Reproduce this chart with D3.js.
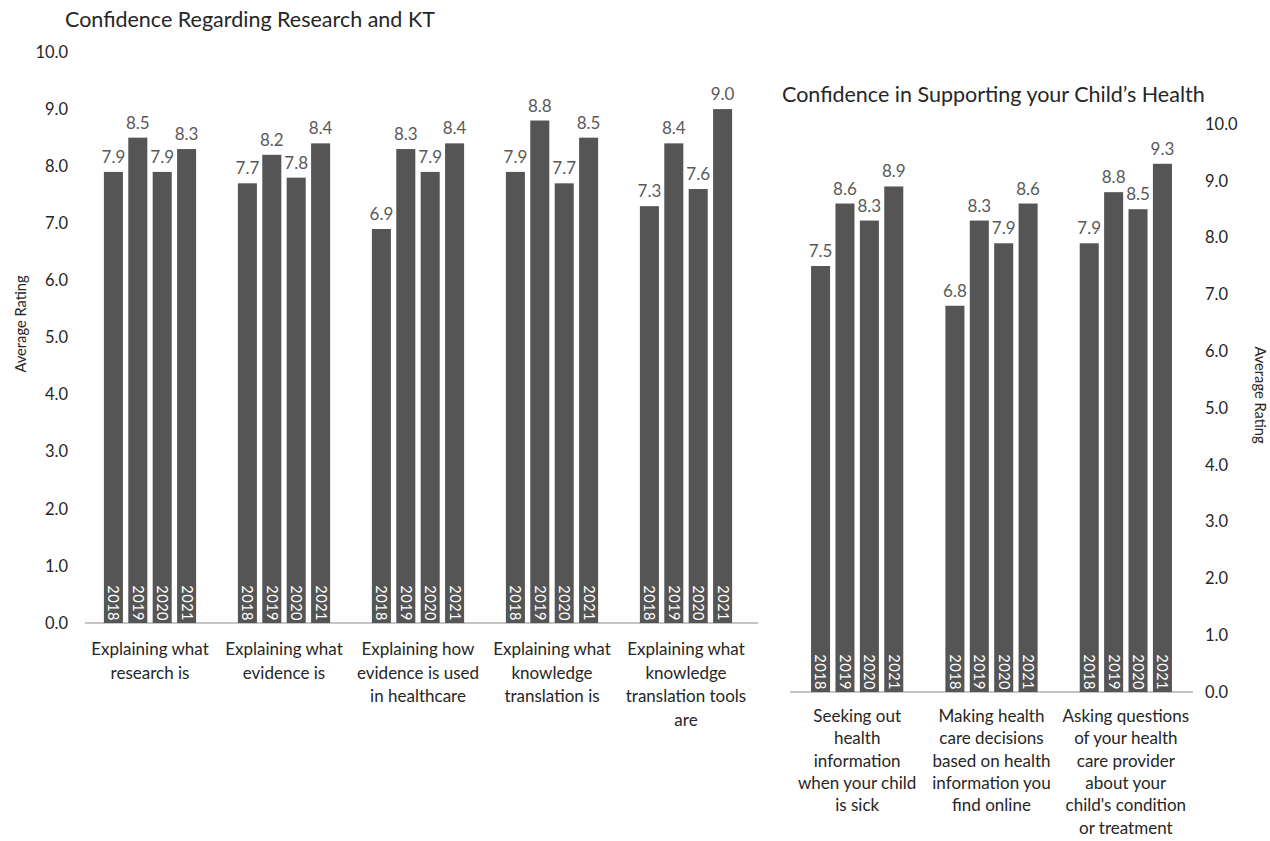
<!DOCTYPE html>
<html><head><meta charset="utf-8">
<script src="https://cdn.jsdelivr.net/npm/d3@7"></script>
<style>
body{margin:0;background:#fff;}
text{font-family:Lato,"Open Sans",sans-serif;}
</style></head>
<body><svg id="c" width="1270" height="841"></svg>
<script>
const years = ["2018","2019","2020","2021"];
const leftCategories = [
  ["Explaining what","research is"],
  ["Explaining what","evidence is"],
  ["Explaining how","evidence is used","in healthcare"],
  ["Explaining what","knowledge","translation is"],
  ["Explaining what","knowledge","translation tools","are"]
];
const leftValues = [
  [7.9,8.5,7.9,8.3],
  [7.7,8.2,7.8,8.4],
  [6.9,8.3,7.9,8.4],
  [7.9,8.8,7.7,8.5],
  [7.3,8.4,7.6,9.0]
];
const rightCategories = [
  ["Seeking out","health","information","when your child","is sick"],
  ["Making health","care decisions","based on health","information you","find online"],
  ["Asking questions","of your health","care provider","about your","child's condition","or treatment"]
];
const rightValues = [
  [7.5,8.6,8.3,8.9],
  [6.8,8.3,7.9,8.6],
  [7.9,8.8,8.5,9.3]
];
const yTicks = [0,1,2,3,4,5,6,7,8,9,10];
const leftTitle = "Confidence Regarding Research and KT";
const rightTitle = "Confidence in Supporting your Child\u2019s Health";
const axisTitle = "Average Rating";

const svg = d3.select("#c");
const barColor = "#555555";

function panel(cfg){
  const g = svg.append("g");
  const x0 = d3.scaleBand().domain(d3.range(cfg.cats.length)).range(cfg.xr);
  const y = d3.scaleLinear().domain([0,10]).range(cfg.yr);
  const bw = x0.bandwidth();
  const x1 = d3.scaleBand().domain(years).range([bw/2-48.8, bw/2+48.8]).paddingInner(0.22).paddingOuter(0.11);
  g.append("line").attr("x1",cfg.line[0]).attr("x2",cfg.line[1])
    .attr("y1",y(0)).attr("y2",y(0)).attr("stroke","#b0b0b0").attr("stroke-width",1.5);
  g.selectAll(".yt").data(yTicks).join("text")
    .attr("x",cfg.tickX).attr("y",d=>y(d)).attr("dy","0.35em")
    .attr("text-anchor",cfg.tickAnchor).attr("font-size",16.5).attr("fill","#262626")
    .text(d=>d3.format(".1f")(d));
  const grp = g.selectAll(".grp").data(cfg.vals).join("g")
    .attr("transform",(d,i)=>`translate(${x0(i)},0)`);
  grp.selectAll("rect").data(d=>d.map((v,j)=>({v,yr:years[j]}))).join("rect")
    .attr("x",d=>x1(d.yr)).attr("width",x1.bandwidth())
    .attr("y",d=>y(d.v)).attr("height",d=>y(0)-y(d.v)).attr("fill",barColor);
  grp.selectAll(".val").data(d=>d.map((v,j)=>({v,yr:years[j]}))).join("text")
    .attr("x",d=>x1(d.yr)+x1.bandwidth()/2).attr("y",d=>y(d.v)-9)
    .attr("text-anchor","middle").attr("font-size",17).attr("fill","#595959")
    .text(d=>d3.format(".1f")(d.v));
  grp.selectAll(".yr").data(d=>d.map((v,j)=>({v,yr:years[j]}))).join("text")
    .attr("transform",d=>`translate(${x1(d.yr)+x1.bandwidth()/2},${y(0)-2}) rotate(90)`)
    .attr("text-anchor","end").attr("dy","0.35em").attr("font-size",14.5).attr("letter-spacing",0.5)
    .attr("fill","#ffffff").text(d=>d.yr);
  g.selectAll(".cat").data(cfg.cats).join("text")
    .attr("text-anchor","middle").attr("font-size",17).attr("fill","#262626")
    .each(function(lines,i){
      d3.select(this).selectAll("tspan").data(lines).join("tspan")
        .attr("x",x0(i)+bw/2).attr("y",(l,k)=>cfg.catY+k*cfg.lh).text(l=>l);
    });
  g.append("text").attr("x",cfg.titleX).attr("y",cfg.titleY).attr("font-size",21.5)
    .attr("fill","#262626").text(cfg.title);
  g.append("text").attr("transform",`translate(${cfg.atX},${cfg.atY}) rotate(${cfg.atRot})`)
    .attr("text-anchor","middle").attr("dy","0.35em").attr("font-size",14.7).attr("fill","#262626").text(axisTitle);
}

panel({cats:leftCategories, vals:leftValues, xr:[83,753], yr:[623,52], line:[85,758],
  tickX:68, tickAnchor:"end", catY:655, lh:23.5, title:leftTitle, titleX:65, titleY:27,
  atX:21, atY:324, atRot:-90});
panel({cats:rightCategories, vals:rightValues, xr:[790,1193], yr:[692,124], line:[790,1193],
  tickX:1205, tickAnchor:"start", catY:722, lh:22.3, title:rightTitle, titleX:782, titleY:102,
  atX:1260, atY:395, atRot:90});
</script></body></html>
